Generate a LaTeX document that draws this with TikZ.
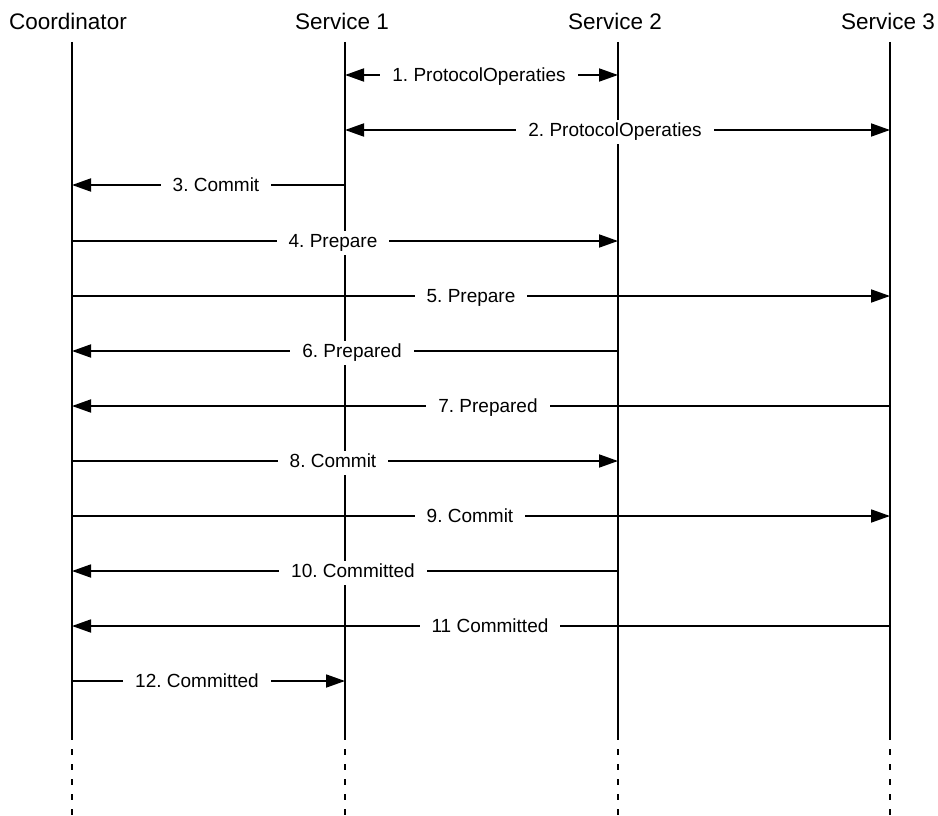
\documentclass[tikz,border=0pt]{standalone}
\usepackage{fontspec}
\setmainfont{Liberation Sans}
\usetikzlibrary{arrows.meta}
\frenchspacing
\begin{document}
\begin{tikzpicture}[x=1pt,y=-1pt,
  head/.style={font=\fontsize{22.5}{27}\selectfont, inner sep=0pt, anchor=base},
  life/.style={line width=1.4pt},
  lifetail/.style={line width=1.4pt, dash pattern=on 6pt off 9pt},
  msg/.style={line width=1.8pt},
  tipend/.style={-{Triangle[length=19pt,width=13pt]}},
  tipboth/.style={{Triangle[length=19pt,width=13pt]}-{Triangle[length=19pt,width=13pt]}},
  lbl/.style={fill=white, font=\fontsize{19}{23}\selectfont, inner xsep=12pt, inner ysep=3pt,
              text height=14pt, text depth=4pt, anchor=base, yshift=-6.8pt}
]
\useasboundingbox (0,0) rectangle (938,816);

% participants
\node[head] (hC)  at (68,30)  {Coordinator};
\node[head] (hS1) at (342,30) {Service 1};
\node[head] (hS2) at (615,30) {Service 2};
\node[head] (hS3) at (888,30) {Service 3};

% lifelines with their points at every message row
\foreach \n/\x in {C/72,S1/345,S2/618,S3/890}{
  \coordinate (\n-top) at (\x,42);
  \coordinate (\n-end) at (\x,740);
  \coordinate (\n-dash) at (\x,749);
  \coordinate (\n-bot) at (\x,816);
  \foreach \i/\y in {1/75,2/130,3/185,4/241,5/296,6/351,7/406,8/461,9/516,10/571,11/626,12/681}{
    \coordinate (\n-\i) at (\x,\y);
  }
  \draw[life] (\n-top) -- (\n-end);
  \draw[lifetail] (\n-dash) -- (\n-bot);
}

% messages
\draw[msg,tipboth] (S1-1) -- (S2-1);
\draw[msg,tipboth] (S1-2) -- (S3-2);
\draw[msg,tipend] (S1-3) -- (C-3);
\draw[msg,tipend] (C-4) -- (S2-4);
\draw[msg,tipend] (C-5) -- (S3-5);
\draw[msg,tipend] (S2-6) -- (C-6);
\draw[msg,tipend] (S3-7) -- (C-7);
\draw[msg,tipend] (C-8) -- (S2-8);
\draw[msg,tipend] (C-9) -- (S3-9);
\draw[msg,tipend] (S2-10) -- (C-10);
\draw[msg,tipend] (S3-11) -- (C-11);
\draw[msg,tipend] (C-12) -- (S1-12);

% message labels
\node[lbl] (m1)  at (479,75)  {1. ProtocolOperaties};
\node[lbl] (m2)  at (615,130) {2. ProtocolOperaties};
\node[lbl] (m3)  at (216,185) {3. Commit};
\node[lbl] (m4)  at (333,241) {4. Prepare};
\node[lbl] (m5)  at (471,296) {5. Prepare};
\node[lbl] (m6)  at (352,351) {6. Prepared};
\node[lbl] (m7)  at (488,406) {7. Prepared};
\node[lbl] (m8)  at (333,461) {8. Commit};
\node[lbl] (m9)  at (470,516) {9. Commit};
\node[lbl] (m10) at (353,571) {10. Committed};
\node[lbl] (m11) at (490,626) {11 Committed};
\node[lbl] (m12) at (197,681) {12. Committed};
\end{tikzpicture}
\end{document}
